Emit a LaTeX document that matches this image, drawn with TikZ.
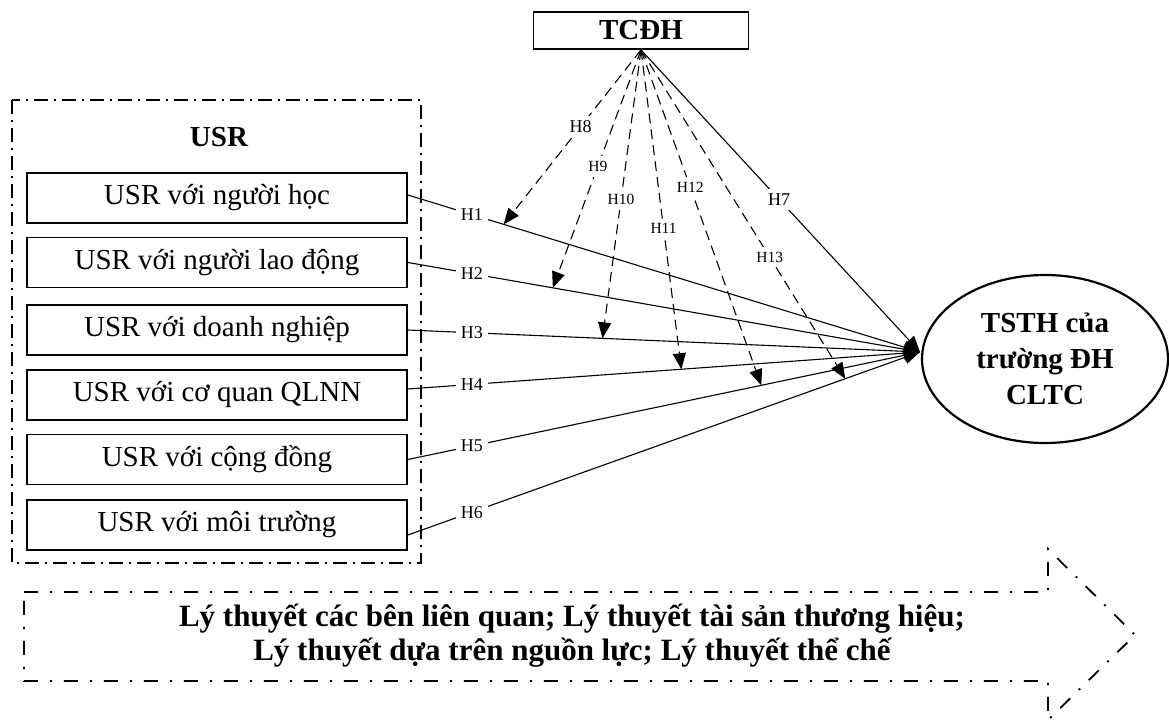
\documentclass[tikz,border=0pt]{standalone}
\usepackage{fontspec}
\setmainfont{Liberation Serif}
\usetikzlibrary{arrows.meta,shapes.geometric}

\begin{document}
\begin{tikzpicture}[x=1pt,y=-1pt,
  usrbox/.style={draw, line width=1.8pt, minimum width=380pt, minimum height=50pt,
    inner sep=0pt, font=\fontsize{29}{33}\selectfont},
  headbox/.style={draw, line width=1.8pt, minimum width=215pt, minimum height=37pt,
    inner sep=0pt, font=\fontsize{29}{33}\selectfont\bfseries},
  outcome/.style={draw, ellipse, line width=2.2pt, minimum width=246pt, minimum height=168pt,
    inner sep=0pt, align=center, font=\fontsize{29}{36}\selectfont\bfseries},
  hlabel/.style={fill=white, inner sep=5pt, font=\fontsize{18}{20}\selectfont},
  hsmall/.style={hlabel, font=\fontsize{15.5}{18}\selectfont},
  link/.style={line width=1.1pt, -{Triangle[length=16pt,width=13pt]}},
  modlink/.style={link, dash pattern=on 10pt off 6pt},
  groupframe/.style={line width=1.5pt, dash pattern=on 14pt off 6pt on 2pt off 6pt},
  theoryframe/.style={line width=1.8pt, dash pattern=on 14pt off 12pt on 2pt off 12pt}
]
\useasboundingbox (0,0) rectangle (1169,722);

% USR group frame and its title
\draw[groupframe] (12,100) rectangle (421,563);
\node[font=\fontsize{29}{33}\selectfont\bfseries] (usr) at (219,137) {USR};

% USR dimensions
\node[usrbox] (b1) at (217,198) {USR với người học};
\node[usrbox] (b2) at (217,262.5) {USR với người lao động};
\node[usrbox] (b3) at (217,330) {USR với doanh nghiệp};
\node[usrbox] (b4) at (217,395) {USR với cơ quan QLNN};
\node[usrbox] (b5) at (217,459.5) {USR với cộng đồng};
\node[usrbox] (b6) at (217,525) {USR với môi trường};

% moderator and outcome
\node[headbox] (t) at (641,30.5) {TCĐH};
\node[outcome] (o) at (1045,359) {TSTH của\\trường ĐH\\CLTC};
\coordinate (tip) at (920,352);

% direct effects H1--H6
\draw[link] ([yshift=3pt]b1.east) -- node[hlabel, pos=0.125] {H1} (tip);
\draw[link] (b2.east) -- node[hlabel, pos=0.125] {H2} (tip);
\draw[link] (b3.east) -- node[hlabel, pos=0.125] {H3} (tip);
\draw[link] ([yshift=6pt]b4.east) -- node[hlabel, pos=0.125] {H4} (tip);
\draw[link] (b5.east) -- node[hlabel, pos=0.125] {H5} (tip);
\draw[link] ([yshift=-10pt]b6.east) -- node[hlabel, pos=0.125] {H6} (tip);

% points where the moderating effects meet the direct paths
\path ([yshift=3pt]b1.east) -- (tip) coordinate[pos=0.187] (m1);
\path (b2.east) -- (tip) coordinate[pos=0.283] (m2);
\path (b3.east) -- (tip) coordinate[pos=0.38] (m3);
\path ([yshift=6pt]b4.east) -- (tip) coordinate[pos=0.534] (m4);
\path (b5.east) -- (tip) coordinate[pos=0.69] (m5);
\path ([yshift=-10pt]b6.east) -- (tip) coordinate[pos=0.854] (m6);

% moderating effects H8--H13 and direct effect H7
\draw[modlink] (t.south) -- node[hlabel, pos=0.44] {H8} (m1);
\draw[modlink] (t.south) -- node[hsmall, pos=0.49] {H9} (m2);
\draw[modlink] (t.south) -- node[hsmall, pos=0.52] {H10} (m3);
\draw[modlink] (t.south) -- node[hsmall, pos=0.56] {H11} (m4);
\draw[modlink] (t.south) -- node[hsmall, pos=0.41] {H12} (m5);
\draw[modlink] (t.south) -- node[hsmall, pos=0.63] {H13} (m6);
\draw[link] (t.south) -- node[hlabel, pos=0.495] {H7} (tip);

% theoretical foundations arrow
\draw[theoryframe] (24,592) -- (1048,592) -- (1048,549) -- (1135,635)
  -- (1048,720) -- (1048,681) -- (24,681) -- cycle;
\node[align=center, font=\fontsize{31}{34}\selectfont\bfseries] (theory) at (572,636)
  {Lý thuyết các bên liên quan; Lý thuyết tài sản thương hiệu;\\
   Lý thuyết dựa trên nguồn lực; Lý thuyết thể chế};
\end{tikzpicture}
\end{document}
